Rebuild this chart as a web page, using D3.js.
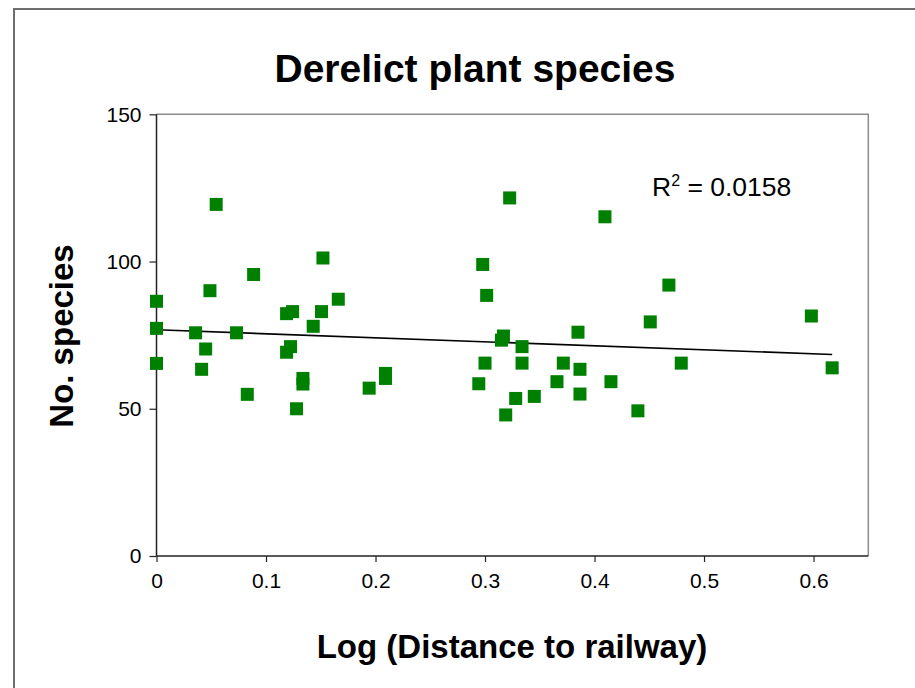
<!DOCTYPE html>
<html>
<head>
<meta charset="utf-8">
<script src="https://cdn.jsdelivr.net/npm/d3@7/dist/d3.min.js"></script>
<style>
  html, body { margin: 0; padding: 0; background: #fff; }
  svg { display: block; }
  text { font-family: "Liberation Sans", Arial, sans-serif; }
</style>
</head>
<body>
<svg id="chart" width="915" height="688"></svg>
<script>
// ---- data ----
const logDistance = [
  0, 0, 0, 0.0357, 0.0412, 0.0449, 0.0488, 0.0545, 0.0731, 0.0829,
  0.0887, 0.1188, 0.1188, 0.1224, 0.1243, 0.1279, 0.1337, 0.1337, 0.1431, 0.1507,
  0.152, 0.166, 0.1942, 0.2091, 0.2091, 0.2943, 0.2979, 0.300, 0.3015, 0.315,
  0.3168, 0.3189, 0.3225, 0.328, 0.3338, 0.3338, 0.345, 0.3657, 0.3715, 0.3849,
  0.3867, 0.3867, 0.4095, 0.415, 0.4396, 0.4509, 0.4679, 0.4792, 0.598, 0.617
];
const speciesCount = [
  86.5, 77.3, 65.4, 75.8, 63.4, 70.3, 90.1, 119.4, 75.8, 54.9,
  95.6, 82.3, 69.2, 71.1, 83.0, 50.0, 60.3, 58.4, 78.0, 83.0,
  101.2, 87.2, 57.0, 62.0, 60.3, 58.5, 99.0, 65.5, 88.5, 73.3,
  74.7, 47.9, 121.6, 53.5, 71.1, 65.5, 54.2, 59.2, 65.5, 76.0,
  63.4, 55.0, 115.2, 59.2, 49.3, 79.5, 92.0, 65.5, 81.5, 63.9
];
const xTicks = [0, 0.1, 0.2, 0.3, 0.4, 0.5, 0.6];
const yTicks = [0, 50, 100, 150];
const titleText = "Derelict plant species";
const xLabel = "Log (Distance to railway)";
const yLabel = "No. species";
const r2Text = "0.0158";

// ---- layout ----
const svg = d3.select("#chart");
const plot = { left: 156.5, top: 114.3, right: 868.3, bottom: 556 };

const x = d3.scaleLinear().domain([0, 0.65]).range([plot.left, plot.right]);
const y = d3.scaleLinear().domain([0, 150]).range([plot.bottom, plot.top]);

// outer chart border (extends past the window on right/bottom)
svg.append("rect")
  .attr("x", 14).attr("y", 9)
  .attr("width", 1000).attr("height", 1000)
  .attr("fill", "#fff")
  .attr("stroke", "#6e6e6e").attr("stroke-width", 2);

// plot area frame (top & right)
svg.append("path")
  .attr("d", `M${plot.left},${plot.top}H${plot.right}V${plot.bottom}`)
  .attr("fill", "none").attr("stroke", "#8c8c8c").attr("stroke-width", 1.5);

// axes
const xAxis = d3.axisBottom(x).tickValues(xTicks).tickSize(6).tickPadding(11)
  .tickFormat(d => d === 0 ? "0" : d3.format(".1f")(d));
const yAxis = d3.axisLeft(y).tickValues(yTicks).tickSize(7).tickPadding(8)
  .tickFormat(d3.format("d"));

const gx = svg.append("g").attr("transform", `translate(0,${plot.bottom})`).call(xAxis);
const gy = svg.append("g").attr("transform", `translate(${plot.left},0)`).call(yAxis);
[gx, gy].forEach(g => {
  g.select(".domain").attr("stroke", "#222").attr("stroke-width", 1.5);
  g.selectAll(".tick line").attr("stroke", "#222").attr("stroke-width", 1.2);
  g.selectAll(".tick text")
    .attr("font-family", "'Liberation Sans', Arial, sans-serif")
    .attr("font-size", 21).attr("fill", "#000");
});
gx.select(".domain").attr("d", `M${plot.left},0H${plot.right}`);
gy.select(".domain").attr("d", `M0,${plot.bottom}V${plot.top}`);

// regression trend line
const n = logDistance.length;
const mx = d3.mean(logDistance), my = d3.mean(speciesCount);
let sxy = 0, sxx = 0;
for (let i = 0; i < n; i++) {
  sxy += (logDistance[i] - mx) * (speciesCount[i] - my);
  sxx += (logDistance[i] - mx) ** 2;
}
const slope = sxy / sxx, intercept = my - slope * mx;
const xExt = d3.extent(logDistance);
svg.append("line")
  .attr("x1", x(xExt[0])).attr("y1", y(intercept + slope * xExt[0]))
  .attr("x2", x(xExt[1])).attr("y2", y(intercept + slope * xExt[1]))
  .attr("stroke", "#000").attr("stroke-width", 1.6);

// markers
const size = 13;
svg.append("g").selectAll("rect")
  .data(d3.range(n))
  .join("rect")
  .attr("x", i => x(logDistance[i]) - size / 2)
  .attr("y", i => y(speciesCount[i]) - size / 2)
  .attr("width", size).attr("height", size)
  .attr("fill", "#008000");

// title
svg.append("text")
  .attr("x", 475).attr("y", 82)
  .attr("text-anchor", "middle")
  .attr("font-size", 39).attr("font-weight", "bold")
  .text(titleText);

// x label
svg.append("text")
  .attr("x", 512).attr("y", 658)
  .attr("text-anchor", "middle")
  .attr("font-size", 33).attr("font-weight", "bold")
  .text(xLabel);

// y label
svg.append("text")
  .attr("transform", "translate(73,336) rotate(-90)")
  .attr("text-anchor", "middle")
  .attr("font-size", 33).attr("font-weight", "bold")
  .text(yLabel);

// R² annotation
const r2 = svg.append("text")
  .attr("x", 652).attr("y", 196)
  .attr("font-size", 26.5);
r2.append("tspan").text("R");
r2.append("tspan").attr("dy", -10).attr("font-size", 16).text("2");
r2.append("tspan").attr("dy", 10).text(" = " + r2Text);
</script>
</body>
</html>
